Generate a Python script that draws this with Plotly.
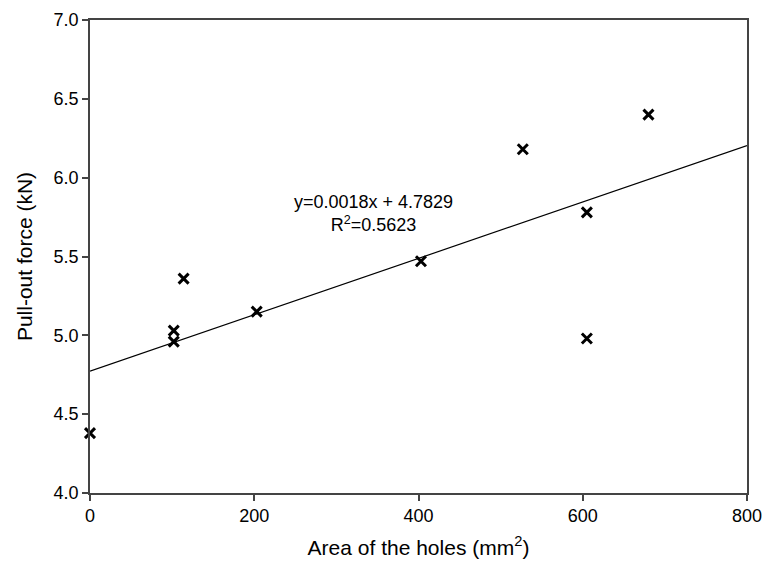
import plotly.graph_objects as go

area = [0, 102, 102, 114, 203, 403, 527, 605, 605, 680]
force = [4.38, 5.03, 4.96, 5.36, 5.15, 5.47, 6.18, 5.78, 4.98, 6.40]

fit_x = [0, 800]
fit_y = [4.773, 6.203]

eq_text = "y=0.0018x + 4.7829<br>R<sup>2</sup>=0.5623"

FONT = "Liberation Sans"

fig = go.Figure()
fig.add_trace(go.Scatter(x=fit_x, y=fit_y, mode="lines",
                         line=dict(color="black", width=1.2), showlegend=False))
fig.add_trace(go.Scatter(x=area, y=force, mode="markers",
                         marker=dict(symbol="x-thin-open", size=10, color="black",
                                     line=dict(color="black", width=3)),
                         showlegend=False, cliponaxis=False))

fig.add_annotation(x=345, y=5.775, text=eq_text, showarrow=False,
                   font=dict(family=FONT, size=18, color="black"),
                   align="center")

axis_common = dict(showgrid=False, zeroline=False, showline=True, linecolor="#444",
                   linewidth=1.5, ticks="outside", ticklen=6, tickcolor="#444",
                   tickwidth=1.5, mirror=True, automargin=False,
                   tickfont=dict(family=FONT, size=18, color="black"))

fig.update_layout(
    width=765, height=574,
    margin=dict(l=90, r=18, t=20, b=81),
    plot_bgcolor="white", paper_bgcolor="white",
    font=dict(family=FONT, color="black"),
    xaxis=dict(range=[0, 800], tickvals=[0, 200, 400, 600, 800],
               title=dict(text="Area of the holes (mm<sup>2</sup>)",
                          font=dict(family=FONT, size=21, color="black")),
               **axis_common),
    yaxis=dict(range=[4.0, 7.0], tickvals=[4.0, 4.5, 5.0, 5.5, 6.0, 6.5, 7.0],
               tickformat=".1f",
               title=dict(text="Pull-out force (kN)",
                          font=dict(family=FONT, size=21, color="black")),
               **axis_common),
)

fig.write_html("out.html")
